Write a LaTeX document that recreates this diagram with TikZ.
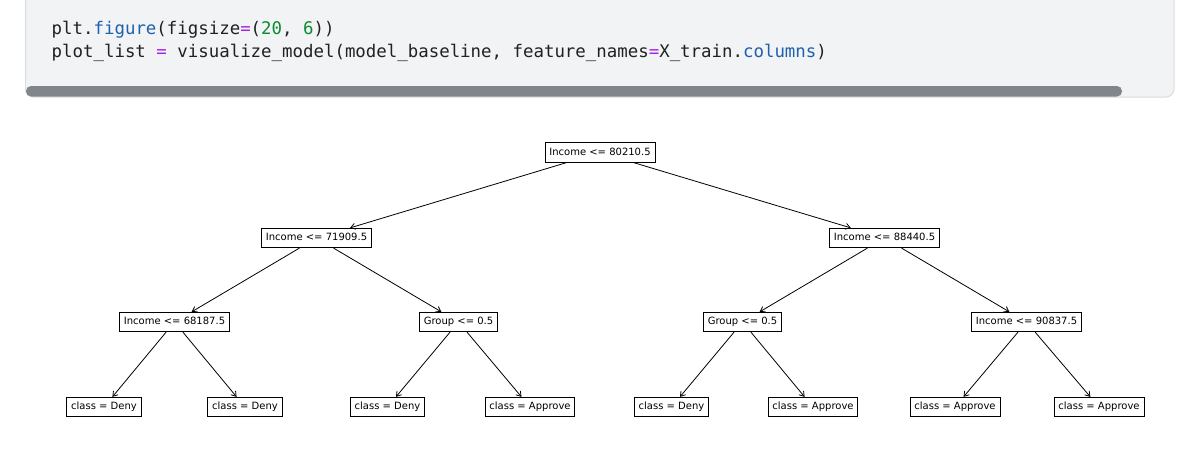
\documentclass[tikz,border=0pt]{standalone}
\usepackage{fontspec}
\usetikzlibrary{arrows.meta}
\newfontfamily\treefont{DejaVu Sans}
\newfontfamily\codefont{DejaVu Sans Mono}
\definecolor{cellbg}{HTML}{F1F3F4}
\definecolor{cellborder}{HTML}{DADCE0}
\definecolor{scrollc}{HTML}{80868B}
\definecolor{codetxt}{HTML}{212121}
\definecolor{codeblue}{HTML}{1F5FB0}
\definecolor{codepurple}{HTML}{A626E4}
\definecolor{codegreen}{HTML}{0B8A33}
\tikzset{
  codeline/.style={anchor=base west, inner sep=0pt, text=codetxt,
    font=\codefont\fontsize{17.4}{20}\selectfont},
  treebox/.style={draw=black, line width=0.8pt, fill=white, inner xsep=4.3pt, inner ysep=0pt,
    minimum height=19.5pt, text height=7.4pt, text depth=2.3pt,
    font=\treefont\fontsize{10}{12}\selectfont},
  edge/.style={line width=0.8pt, -{Straight Barb[length=4.5pt,width=6pt]}}
}
\newcommand{\cb}[1]{\textcolor{codeblue}{#1}}
\newcommand{\cp}[1]{\textcolor{codepurple}{#1}}
\newcommand{\cg}[1]{\textcolor{codegreen}{#1}}
\begin{document}
\begin{tikzpicture}[x=1pt,y=-1pt]
\useasboundingbox (0,0) rectangle (1178,453);
\begin{scope}
\clip (0,0) rectangle (1178,453);
\fill[white] (0,0) rectangle (1178,453);
\filldraw[fill=cellbg, draw=cellborder, line width=1pt, rounded corners=8pt] (25.5,-20) rectangle (1174,97);
\fill[scrollc, rounded corners=5pt] (26,86) rectangle (1122,96.5);
\end{scope}
\node[codeline] (c1) at (51.5,34) {plt.\cb{figure}(figsize\cp{=}(\cg{20}, \cg{6}))};
\node[codeline] (c2) at (51.5,57) {plot\_list \cp{=} visualize\_model(model\_baseline, feature\_names\cp{=}X\_train.\cb{columns})};

\node[treebox] (r) at (600,152.5) {Income <= 80210.5};
\node[treebox] (a) at (316.5,238) {Income <= 71909.5};
\node[treebox] (b) at (884.5,238) {Income <= 88440.5};
\node[treebox] (aa) at (174.5,322) {Income <= 68187.5};
\node[treebox] (ab) at (458.5,322) {Group <= 0.5};
\node[treebox] (ba) at (742.5,322) {Group <= 0.5};
\node[treebox] (bb) at (1026.5,322) {Income <= 90837.5};
\node[treebox] (l1) at (104,407) {class = Deny};
\node[treebox] (l2) at (245,407) {class = Deny};
\node[treebox] (l3) at (387.5,407) {class = Deny};
\node[treebox] (l4) at (530,407) {class = Approve};
\node[treebox] (l5) at (671.5,407) {class = Deny};
\node[treebox] (l6) at (813,407) {class = Approve};
\node[treebox] (l7) at (955,407) {class = Approve};
\node[treebox] (l8) at (1099,407) {class = Approve};

\draw[edge] (r) -- (a);
\draw[edge] (r) -- (b);
\draw[edge] (a) -- (aa);
\draw[edge] (a) -- (ab);
\draw[edge] (b) -- (ba);
\draw[edge] (b) -- (bb);
\draw[edge] (aa) -- (l1);
\draw[edge] (aa) -- (l2);
\draw[edge] (ab) -- (l3);
\draw[edge] (ab) -- (l4);
\draw[edge] (ba) -- (l5);
\draw[edge] (ba) -- (l6);
\draw[edge] (bb) -- (l7);
\draw[edge] (bb) -- (l8);
\end{tikzpicture}
\end{document}
